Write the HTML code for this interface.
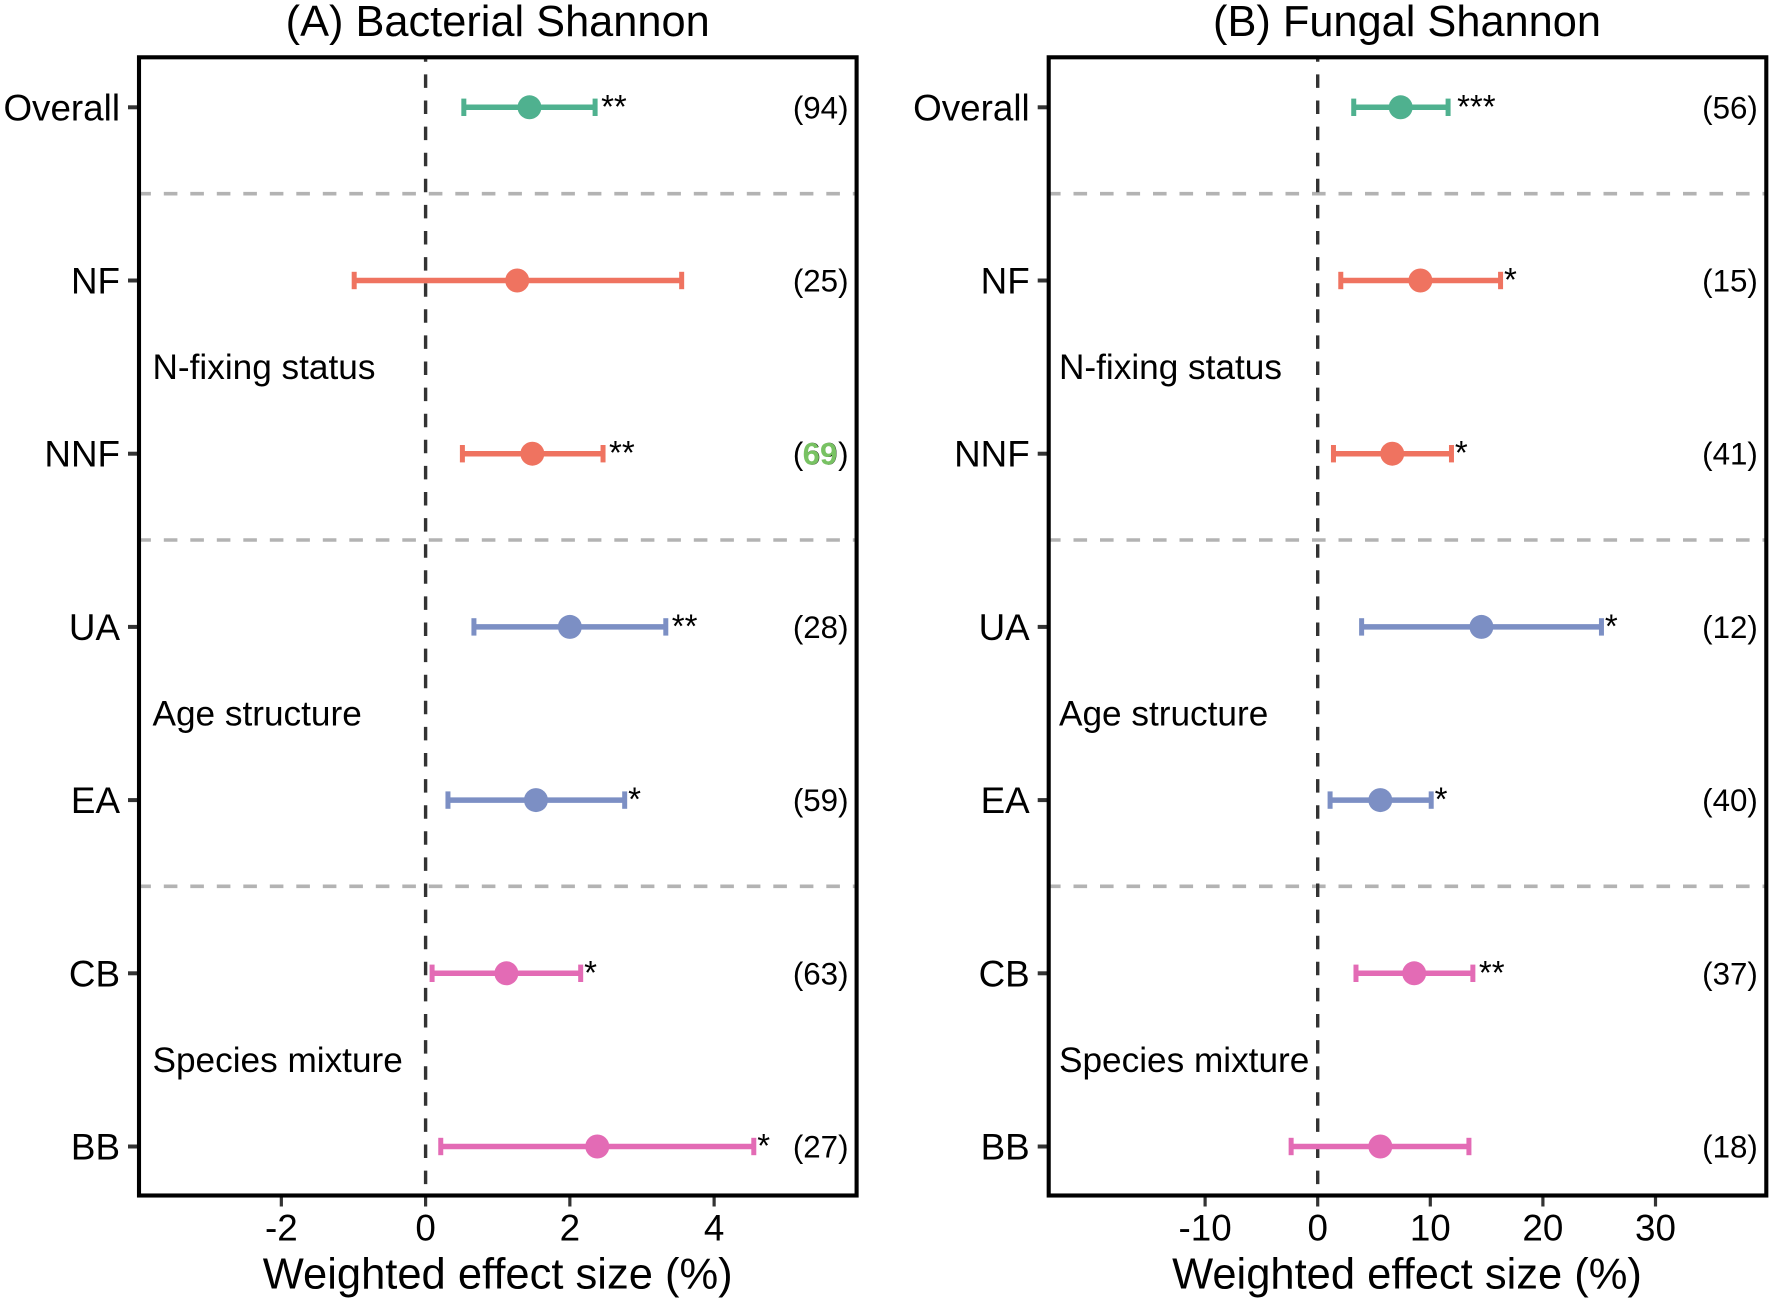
<!DOCTYPE html>
<html lang="en">
<head>
<meta charset="utf-8">
<title>Weighted effect size forest plots</title>
<style>
html,body{margin:0;padding:0;background:#fff;}
svg{display:block;}
text{font-family:"Liberation Sans",Arial,sans-serif;fill:#000;}
</style>
</head>
<body>
<svg id="figure" xmlns="http://www.w3.org/2000/svg" width="1772" height="1302" viewBox="0 0 1772 1302"></svg>
<script>
const categories = ['Overall', 'NF', 'NNF', 'UA', 'EA', 'CB', 'BB'];
const categoryGroups = ['overall', 'nfix', 'nfix', 'age', 'age', 'mix', 'mix'];
const groupLabels = ['N-fixing status', 'Age structure', 'Species mixture'];

const bacterialMean = [1.44, 1.27, 1.48, 2.0, 1.53, 1.12, 2.38];
const bacterialLow = [0.53, -0.99, 0.51, 0.67, 0.31, 0.09, 0.21];
const bacterialHigh = [2.35, 3.55, 2.46, 3.33, 2.76, 2.15, 4.55];
const bacterialStars = ['**', '', '**', '**', '*', '*', '*'];
const bacterialCounts = [94, 25, 69, 28, 59, 63, 27];
const bacterialTicks = [-2, 0, 2, 4];

const fungalMean = [7.37, 9.12, 6.62, 14.54, 5.56, 8.57, 5.56];
const fungalLow = [3.2, 2.05, 1.4, 3.9, 1.1, 3.4, -2.36];
const fungalHigh = [11.58, 16.24, 11.88, 25.2, 10.08, 13.78, 13.43];
const fungalStars = ['***', '*', '*', '*', '*', '**', ''];
const fungalCounts = [56, 15, 41, 12, 40, 37, 18];
const fungalTicks = [-10, 0, 10, 20, 30];

const highlightedBacterialCount = 69;

const NS = 'http://www.w3.org/2000/svg';
const root = document.getElementById('figure');
const colorByGroup = {overall: '#4fb18f', nfix: '#ef7360', age: '#7c8fc4', mix: '#e36bb5'};
const TOP = 57.3, BOTTOM = 1195.5, ROW0 = 107.3, ROW_STEP = 173.2;

function rowY(i) { return ROW0 + i * ROW_STEP; }

function make(tag, attrs, parent) {
  const el = document.createElementNS(NS, tag);
  for (const k in attrs) el.setAttribute(k, attrs[k]);
  parent.appendChild(el);
  return el;
}

function label(str, x, y, size, anchor, parent) {
  const el = make('text', {x: x, y: y, 'font-size': size, 'text-anchor': anchor}, parent);
  el.textContent = str;
  return el;
}

function drawPanel(p) {
  const xScale = v => p.zeroX + v * p.pxPerUnit;
  const g = make('g', {}, root);
  
  

  const title = label(p.title, p.centerX, 36, 43.35, 'middle', g);
  
  

  [0, 1, 2].forEach(i => {
    const y = 193.7 + i * 346.3;
    const sep = make('line', {x1: p.left, x2: p.right, y1: y, y2: y, stroke: '#b3b3b3', 'stroke-width': 3.6, 'stroke-dasharray': '13.6 12.9', 'stroke-dashoffset': 1.7}, g);
    
    
  });

  const zero = make('line', {x1: xScale(0), x2: xScale(0), y1: TOP, y2: BOTTOM, stroke: '#333', 'stroke-width': 3.4, 'stroke-dasharray': '13.5 12.6', 'stroke-dashoffset': 9}, g);
  
  

  groupLabels.forEach((name, i) => {
    const t = label(name, p.groupX, 379 + i * 346.4, 35.2, 'start', g);
    
    
  });

  categories.forEach((cat, i) => {
    const y = rowY(i);
    const slug = p.id + '-' + cat.toLowerCase();
    const color = colorByGroup[categoryGroups[i]];

    const tick = make('line', {x1: p.left - 11, x2: p.left, y1: y, y2: y, stroke: '#333', 'stroke-width': 4}, g);
    
    

    const catLabel = label(cat, p.left - 19, y + 13, 36.8, 'end', g);
    
    

    const lo = xScale(p.low[i]), hi = xScale(p.high[i]), mid = xScale(p.mean[i]);

    const bar = make('line', {x1: lo, x2: hi, y1: y, y2: y, stroke: color, 'stroke-width': 5.5}, g);
    
    

    const capL = make('line', {x1: lo, x2: lo, y1: y - 8.7, y2: y + 8.7, stroke: color, 'stroke-width': 5}, g);
    
    

    const capH = make('line', {x1: hi, x2: hi, y1: y - 8.7, y2: y + 8.7, stroke: color, 'stroke-width': 5}, g);
    
    

    const dot = make('circle', {cx: mid, cy: y, r: 12, fill: color}, g);
    
    

    const stars = p.stars[i];
    if (stars) {
      const gap = {1: 3.4, 2: 6, 3: 9}[stars.length];
      const s = label(stars, hi + gap, y + 10.5, 33, 'start', g);
      
      
    }

    const count = label('(' + p.counts[i] + ')', p.countX, y + 11, 31.3, 'end', g);
    
    

    if (p.highlight === p.counts[i]) {
      const over = label(String(p.counts[i]), p.countX - 28.5, y + 11, 31.3, 'middle', g);
      over.setAttribute('font-weight', 'bold');
      over.style.fill = '#78c263';
      
      
    }
  });

  p.ticks.forEach(v => {
    const x = xScale(v);
    const tick = make('line', {x1: x, x2: x, y1: BOTTOM, y2: BOTTOM + 11, stroke: '#333', 'stroke-width': 3.2}, g);
    
    

    const t = label(String(v), x, 1240.7, 36.8, 'middle', g);
    
    
  });

  const axisTitle = label('Weighted effect size (%)', p.centerX, 1288.5, 43.5, 'middle', g);
  
  

  const frame = make('rect', {x: p.left, y: TOP, width: p.right - p.left, height: BOTTOM - TOP, fill: 'none', stroke: '#000', 'stroke-width': 4.1}, g);
  
  
}

drawPanel({id: 'bacterial', title: '(A) Bacterial Shannon', left: 139, right: 856.6, zeroX: 425.6, pxPerUnit: 72.13,
  centerX: 497.7, groupX: 152.5, countX: 848.5, mean: bacterialMean, low: bacterialLow, high: bacterialHigh,
  stars: bacterialStars, counts: bacterialCounts, ticks: bacterialTicks, highlight: highlightedBacterialCount});

drawPanel({id: 'fungal', title: '(B) Fungal Shannon', left: 1048.7, right: 1766.3, zeroX: 1317.7, pxPerUnit: 11.26,
  centerX: 1407, groupX: 1059, countX: 1757.8, mean: fungalMean, low: fungalLow, high: fungalHigh,
  stars: fungalStars, counts: fungalCounts, ticks: fungalTicks, highlight: null});
</script>
</body>
</html>
